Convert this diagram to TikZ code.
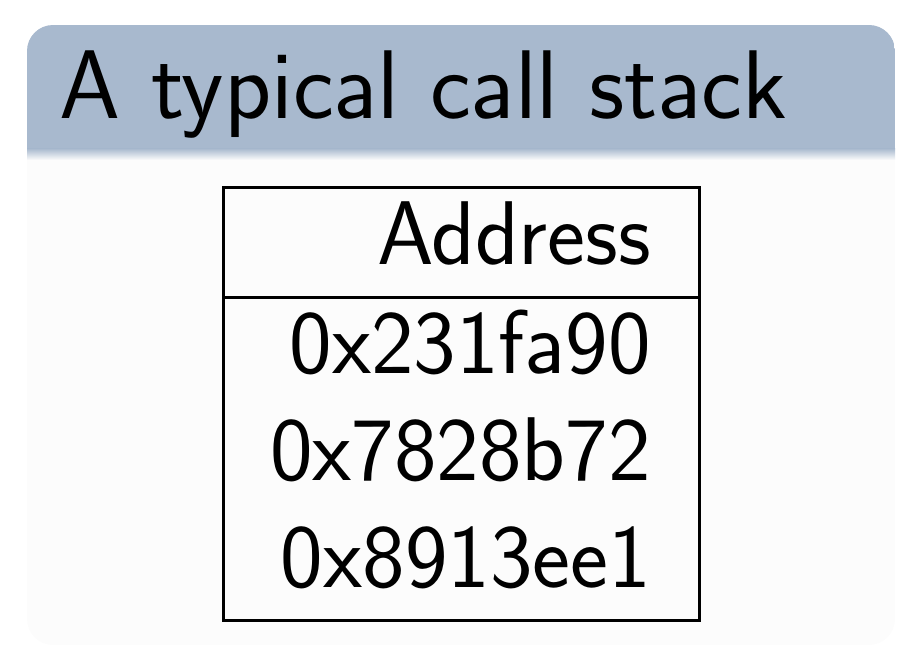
\documentclass[tikz,border=0pt]{standalone}
\usetikzlibrary{calc}
\definecolor{blocktitle}{RGB}{168,185,206}
\definecolor{blockbody}{RGB}{252,252,252}
\tikzset{
  rule/.style={line width=3pt, line cap=rect},
  celltext/.style={inner sep=0pt, anchor=base east, font=\fontsize{90.5}{108}\selectfont\sffamily},
  titletext/.style={inner sep=0pt, anchor=base west, font=\fontsize{97.6}{117}\selectfont\sffamily}
}
\begin{document}
\begin{tikzpicture}[x=1pt,y=-1pt]
  \useasboundingbox (0,0) rectangle (922,650);
  % block body
  \fill[blockbody, rounded corners=26pt] (27,25) rectangle (895,645);
  % block title background
  \begin{scope}
    \clip[rounded corners=26pt] (27,25) rectangle (895,645);
    \fill[blocktitle] (27,25) rectangle (895,149);
    \shade[top color=blocktitle, bottom color=blockbody] (27,148.5) rectangle (895,160);
  \end{scope}
  \node[titletext] (title) at (59.5,119) {A typical call stack};
  % table
  \draw[rule] (223.5,187.5) -- (699,187.5);
  \draw[rule] (223.5,297.5) -- (699,297.5);
  \draw[rule] (223.5,620) -- (699,620);
  \draw[rule] (223.5,187.5) -- (223.5,620);
  \draw[rule] (699,187.5) -- (699,620);
  \node[celltext] (hdr) at (651,265) {Address};
  \node[celltext] (r1) at (651,373) {0x231fa90};
  \node[celltext] (r2) at (651,480) {0x7828b72};
  \node[celltext] (r3) at (651,587) {0x8913ee1};
\end{tikzpicture}
\end{document}
